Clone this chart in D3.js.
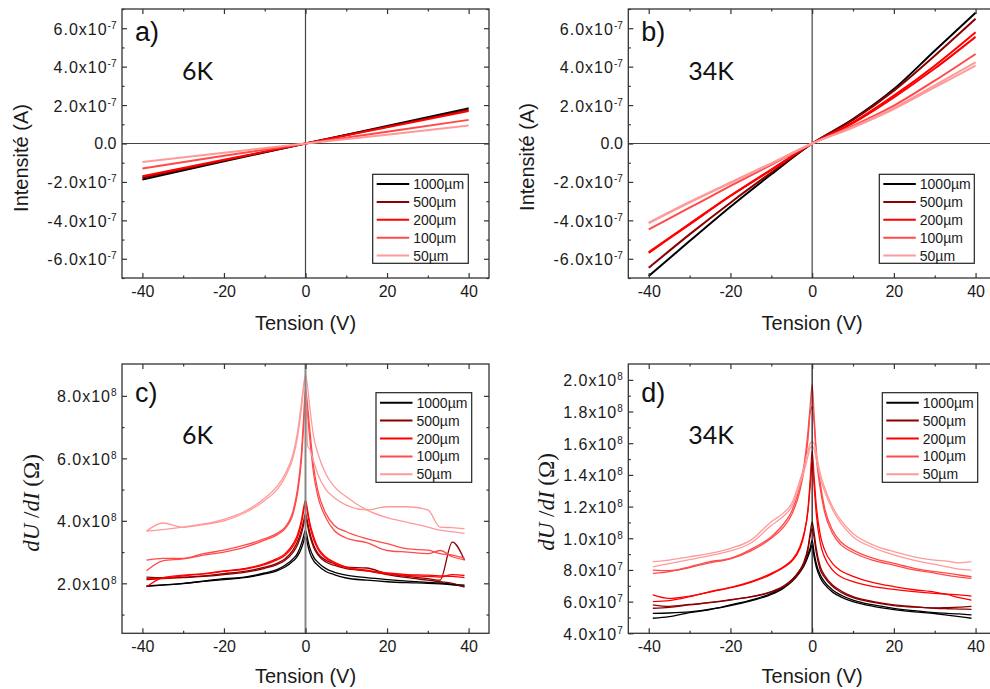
<!DOCTYPE html>
<html><head><meta charset="utf-8">
<script src="https://cdn.jsdelivr.net/npm/d3@7"></script>
<style>
html,body{margin:0;padding:0;background:#fff;}
svg{display:block;}
</style></head>
<body>
<svg id="chart" width="990" height="689"></svg>
<script>
// ---------------- DATA ----------------
const seriesNames = ["1000µm", "500µm", "200µm", "100µm", "50µm"];
const seriesColors = ["#000000", "#8b0000", "#ff0000", "#ff4a4a", "#ff9a9a"];

// Panel a (6K) I-V, current in units of 1e-7 A
const aV = [-40, -20, 0, 20, 40];
const a1000 = [-1.87, -0.93, 0, 0.91, 1.83];
const a500 = [-1.78, -0.88, 0, 0.87, 1.75];
const a200 = [-1.70, -0.85, 0, 0.84, 1.69];
const a100 = [-1.30, -0.64, 0, 0.61, 1.23];
const a50 = [-0.96, -0.48, 0, 0.46, 0.94];

// Panel b (34K) I-V, current in units of 1e-7 A
const bV = [-40, -30, -20, -10, 0, 10, 20, 30, 40];
const b1000 = [-6.90, -5.08, -3.29, -1.60, 0, 1.27, 2.83, 4.83, 6.80];
const b500 = [-6.47, -4.73, -3.08, -1.51, 0, 1.23, 2.75, 4.57, 6.49];
const b200 = [-5.69, -4.21, -2.73, -1.37, 0, 1.10, 2.49, 4.05, 5.79];
const b200b = [-5.65, -4.18, -2.72, -1.36, 0, 1.06, 2.40, 3.90, 5.55];
const b100 = [-4.47, -3.34, -2.21, -1.11, 0, 0.92, 1.97, 3.27, 4.66];
const b50 = [-4.12, -3.04, -2.03, -1.03, 0, 0.83, 1.79, 2.92, 4.05];
const b50b = [-4.15, -3.08, -2.06, -1.05, 0, 0.86, 1.85, 3.02, 4.23];

// Panels c and d: dU/dI sweeps on a shared voltage grid
const cdV = [-39, -35, -30, -25, -20, -15, -10, -7, -5, -3, -2, -1, -0.5, 0, 0.5, 1, 2, 3, 5, 7, 10, 15, 20, 25, 30, 33, 36, 39];

// Panel c (6K), units of 1e8 Ohm
const c1000a = [1.90,1.94,1.99,2.07,2.15,2.20,2.33,2.44,2.58,2.79,2.95,3.27,3.49,3.70,3.43,3.16,2.84,2.68,2.47,2.36,2.26,2.18,2.12,2.07,2.03,2.01,1.97,1.94];
const c1000b = [1.92,1.95,2.00,2.06,2.12,2.18,2.30,2.40,2.52,2.72,2.86,3.12,3.32,3.52,3.25,3.00,2.72,2.58,2.38,2.28,2.17,2.10,2.05,2.02,2.00,1.98,1.95,1.90];
const c500a = [2.20,2.18,2.20,2.24,2.31,2.38,2.52,2.64,2.79,3.08,3.32,3.70,3.97,4.23,3.97,3.65,3.22,2.97,2.74,2.63,2.52,2.49,2.31,2.22,2.15,2.10,3.32,2.74];
const c500b = [2.12,2.15,2.18,2.22,2.28,2.35,2.48,2.60,2.74,3.00,3.22,3.58,3.85,4.10,3.85,3.55,3.15,2.92,2.68,2.58,2.47,2.40,2.28,2.18,2.10,2.05,2.00,1.88];
const c200a = [1.88,2.18,2.26,2.31,2.40,2.47,2.63,2.79,2.95,3.27,3.54,4.02,4.39,4.66,4.34,3.97,3.49,3.16,2.84,2.68,2.52,2.42,2.33,2.28,2.26,2.24,2.22,2.18];
const c200b = [2.15,2.16,2.24,2.30,2.38,2.45,2.60,2.75,2.90,3.20,3.45,3.92,4.28,4.55,4.25,3.88,3.40,3.10,2.80,2.64,2.50,2.40,2.30,2.25,2.22,2.20,2.28,2.25];
const c100a = [2.74,2.80,2.80,2.95,3.06,3.22,3.43,3.60,3.80,4.34,4.98,6.15,7.20,8.24,7.70,7.00,5.73,4.98,4.23,3.86,3.65,3.43,3.27,3.10,3.06,2.95,2.90,2.80];
const c100b = [2.40,2.72,2.78,2.90,3.00,3.15,3.38,3.55,3.75,4.25,4.85,5.95,6.95,7.90,7.40,6.70,5.50,4.80,4.10,3.70,3.45,3.30,3.05,3.00,2.95,3.05,2.85,2.75];
const c50a = [3.67,3.72,3.80,3.90,4.05,4.30,4.72,5.10,5.50,6.17,6.80,7.77,8.30,8.67,8.30,7.70,6.69,6.17,5.50,5.10,4.77,4.35,4.10,3.95,3.80,3.70,3.65,3.60];
const c50b = [3.67,3.93,3.80,3.88,4.00,4.25,4.65,5.00,5.40,6.05,6.65,7.60,8.20,8.60,6.40,6.30,5.90,5.50,5.00,4.75,4.50,4.35,4.45,4.45,4.35,3.80,3.78,3.75];

// Panel d (34K), units of 1e7 Ohm
const d1000a = [4.95,5.05,5.30,5.50,5.79,6.10,6.52,6.94,7.36,7.99,8.41,9.04,9.36,9.88,9.04,8.41,7.68,7.26,6.73,6.42,6.10,5.79,5.58,5.43,5.30,5.26,5.22,5.16];
const d1000b = [5.26,5.28,5.35,5.52,5.75,6.05,6.45,6.85,7.25,7.85,8.25,8.85,9.20,9.55,8.80,8.20,7.50,7.10,6.60,6.30,6.00,5.70,5.50,5.35,5.25,5.15,5.05,4.95];
const d500a = [5.58,5.64,5.79,5.93,6.10,6.31,6.63,6.98,7.36,7.99,8.52,9.46,10.30,11.04,10.30,9.36,8.20,7.68,7.05,6.69,6.31,6.00,5.79,5.68,5.58,5.55,5.53,5.51];
const d500b = [5.80,5.70,5.82,5.95,6.12,6.30,6.60,6.95,7.30,7.90,8.40,9.30,10.10,10.60,10.00,9.10,8.00,7.55,6.95,6.60,6.25,5.95,5.75,5.65,5.60,5.62,5.65,5.70];
const d200a = [6.00,6.06,6.31,6.63,6.90,7.26,7.78,8.20,8.62,9.46,10.30,11.77,13.24,14.82,13.24,11.56,9.67,8.83,7.99,7.57,7.26,6.94,6.77,6.63,6.52,6.47,6.42,6.35];
const d200b = [6.42,6.20,6.35,6.60,6.88,7.22,7.72,8.15,8.55,9.35,10.20,11.90,13.60,15.50,13.80,12.10,10.20,9.30,8.40,7.95,7.60,7.20,6.95,6.75,6.60,6.45,6.25,6.10];
const d100a = [7.78,7.89,8.20,8.52,8.73,9.30,10.10,10.90,11.70,13.30,14.60,16.80,18.30,19.70,17.65,15.55,13.45,11.98,10.50,9.78,9.25,8.73,8.41,8.10,7.89,7.80,7.68,7.57];
const d100b = [7.99,7.95,8.15,8.45,8.70,9.20,10.00,10.70,11.50,13.00,14.30,16.30,17.90,18.30,17.20,15.20,13.10,11.70,10.30,9.60,9.10,8.60,8.30,8.00,7.80,7.65,7.55,7.47];
const d50a = [8.52,8.62,8.83,9.04,9.36,9.88,11.04,11.60,12.20,13.66,14.50,15.55,15.97,16.08,15.97,15.34,14.08,13.24,11.98,11.14,10.30,9.57,9.15,8.83,8.62,8.55,8.45,8.52];
const d50b = [8.20,8.40,8.65,8.90,9.20,9.70,10.80,11.40,12.00,13.40,14.20,15.20,15.70,15.80,15.60,15.00,13.80,13.00,11.80,10.95,10.10,9.40,8.95,8.60,8.35,8.20,8.05,7.99];

// Tick values and labels
const xTicks = [-40, -20, 0, 20, 40];
const xMinor = [-30, -10, 10, 30];
const abYTicks = [-6, -4, -2, 0, 2, 4, 6];           // x1e-7
const abYMinor = [-7, -5, -3, -1, 1, 3, 5, 7];
const abYMant = ["-6.0", "-4.0", "-2.0", "0.0", "2.0", "4.0", "6.0"];
const abYExp = ["-7", "-7", "-7", "", "-7", "-7", "-7"];
const cYTicks = [2, 4, 6, 8];                         // x1e8
const cYMinor = [1, 3, 5, 7];
const cYMant = ["2.0", "4.0", "6.0", "8.0"];
const cYExp = ["8", "8", "8", "8"];
const dYTicks = [4, 6, 8, 10, 12, 14, 16, 18, 20];   // x1e7
const dYMinor = [5, 7, 9, 11, 13, 15, 17, 19];
const dYMant = ["4.0", "6.0", "8.0", "1.0", "1.2", "1.4", "1.6", "1.8", "2.0"];
const dYExp = ["7", "7", "7", "8", "8", "8", "8", "8", "8"];

// ---------------- DRAWING ----------------
const svg = d3.select("#chart");
const SANS = "'Liberation Sans', Arial, sans-serif";
const TXT = "#1a1a1a";

function makePanel(cfg) {
  const g = svg.append("g");
  const x = d3.scaleLinear().domain([-45, 45]).range([cfg.left, cfg.right]);
  const y = d3.scaleLinear().domain(cfg.yDomain).range([cfg.bottom, cfg.top]);
  const clipId = "clip" + cfg.id;
  svg.append("defs").append("clipPath").attr("id", clipId)
    .append("rect").attr("x", cfg.left).attr("y", cfg.top)
    .attr("width", cfg.right - cfg.left).attr("height", cfg.bottom - cfg.top);

  const zeroG = g.append("g");
  function drawZero() {
    if (cfg.zeroH) {
      zeroG.append("line").attr("x1", cfg.left).attr("x2", cfg.right)
        .attr("y1", y(0)).attr("y2", y(0))
        .attr("stroke", "#444").attr("stroke-width", 1.2);
    }
    zeroG.append("line").attr("x1", x(0)).attr("x2", x(0))
      .attr("y1", cfg.top).attr("y2", cfg.bottom)
      .attr("stroke", cfg.zeroColor).attr("stroke-width", cfg.zeroWidth);
  }
  if (!cfg.zeroOnTop) drawZero();

  const dataG = g.append("g").attr("clip-path", `url(#${clipId})`);
  const line = d3.line().x(d => x(d[0])).y(d => y(d[1])).curve(d3.curveMonotoneX);
  cfg.sweeps.forEach(s => {
    const pts = s.v.map((v, i) => [v, s.vals[i]]);
    dataG.append("path").attr("d", line(pts)).attr("fill", "none")
      .attr("stroke", seriesColors[s.k]).attr("stroke-width", cfg.lw)
      .attr("stroke-linejoin", "round");
  });
  if (cfg.zeroOnTop) { zeroG.raise(); drawZero(); }

  // frame
  g.append("rect").attr("x", cfg.left).attr("y", cfg.top)
    .attr("width", cfg.right - cfg.left).attr("height", cfg.bottom - cfg.top)
    .attr("fill", "none").attr("stroke", "#333").attr("stroke-width", 1.3);

  // ticks (inward) on all sides
  const axes = [
    [d3.axisBottom(x), `translate(0,${cfg.bottom})`, xTicks, xMinor, true],
    [d3.axisTop(x), `translate(0,${cfg.top})`, xTicks, xMinor, false],
    [d3.axisLeft(y), `translate(${cfg.left},0)`, cfg.yTicks, cfg.yMinor, false],
    [d3.axisRight(y), `translate(${cfg.right},0)`, cfg.yTicks, cfg.yMinor, false]
  ];
  axes.forEach(([ax, tr, maj, min, labels]) => {
    const a1 = g.append("g").attr("transform", tr)
      .call(ax.tickValues(maj).tickSize(-5).tickPadding(7.5)
        .tickFormat(labels ? d3.format("d") : () => ""));
    const a2 = g.append("g").attr("transform", tr)
      .call(ax.tickValues(min).tickSize(-2.5).tickFormat(() => ""));
    [a1, a2].forEach(a => {
      a.select(".domain").remove();
      a.selectAll(".tick line").attr("stroke", "#333").attr("stroke-width", 1.2);
      a.selectAll("text").attr("font-family", SANS).attr("font-size", 16).attr("fill", TXT)
        .text(function () { return d3.select(this).text().replace("−", "-"); });
    });
  });

  // y tick labels
  cfg.yTicks.forEach((v, i) => {
    const exp = cfg.yExp[i];
    const t = g.append("text").attr("x", cfg.left - 5.5)
      .attr("y", y(v) + (exp ? 6.5 : 5.5))
      .attr("text-anchor", "end").attr("font-family", SANS).attr("font-size", 16).attr("fill", TXT);
    if (exp) {
      t.append("tspan").attr("letter-spacing", 1).text(cfg.yMant[i] + "x10");
      t.append("tspan").attr("dy", -6).attr("font-size", 10).text(exp);
    } else {
      t.text(cfg.yMant[i]);
    }
  });

  // axis titles
  g.append("text").attr("x", x(0)).attr("y", cfg.xTitleY).attr("text-anchor", "middle")
    .attr("font-family", SANS).attr("font-size", 20).attr("fill", TXT).text("Tension (V)");
  const yt = g.append("text")
    .attr("transform", `translate(${cfg.yTitleX},${cfg.yTitleY}) rotate(-90)`)
    .attr("text-anchor", "middle").attr("dy", "0.35em").attr("fill", TXT);
  if (cfg.yTitleMath) {
    yt.attr("font-family", "'Liberation Serif', 'Times New Roman', serif").attr("font-size", 23);
    yt.append("tspan").attr("font-style", "italic").text("dU");
    yt.append("tspan").text(" /");
    yt.append("tspan").attr("font-style", "italic").text("dI");
    yt.append("tspan").text(" (Ω)");
  } else {
    yt.attr("font-family", SANS).attr("font-size", 20).text("Intensité (A)");
  }

  // panel letter and temperature
  g.append("text").attr("x", cfg.left + 13).attr("y", cfg.top + cfg.letterDY)
    .attr("font-family", SANS).attr("font-size", 27).attr("fill", "#111").text(cfg.letter);
  g.append("text").attr("x", cfg.left + 60).attr("y", cfg.top + cfg.tempDY)
    .attr("font-family", "Lato, 'Open Sans', sans-serif").attr("font-size", 25).attr("fill", "#111").text(cfg.temp);

  // legend
  const L = cfg.legend;
  const lg = g.append("g");
  lg.append("rect").attr("x", L.x).attr("y", L.y).attr("width", L.w).attr("height", L.h)
    .attr("fill", "#fff").attr("stroke", "#222").attr("stroke-width", 1.2);
  seriesNames.forEach((n, i) => {
    const yy = L.y0 + i * 17.9;
    lg.append("line").attr("x1", L.x + 4).attr("x2", L.x + 36.5).attr("y1", yy).attr("y2", yy)
      .attr("stroke", seriesColors[i]).attr("stroke-width", 2);
    lg.append("text").attr("x", L.x + 40.5).attr("y", yy + 5)
      .attr("font-family", SANS).attr("font-size", 14).attr("fill", TXT).text(n);
  });
}

function sw(k, v, vals, scale) { return { k, v, vals: vals.map(d => d * scale) }; }

makePanel({
  id: "a", left: 122, right: 489, top: 9, bottom: 278, yDomain: [-7e-7, 7e-7],
  yTicks: abYTicks.map(d => d * 1e-7), yMinor: abYMinor.map(d => d * 1e-7),
  yMant: abYMant, yExp: abYExp, zeroH: true, zeroColor: "#444", zeroWidth: 1.2, zeroOnTop: false,
  lw: 2, xTitleY: 330, yTitleX: 21, yTitleY: 158, letter: "a)", letterDY: 31.5, temp: "6K", tempDY: 71,
  legend: { x: 372.7, y: 174.3, w: 95.6, h: 89, y0: 184 },
  sweeps: [sw(0, aV, a1000, 1e-7), sw(1, aV, a500, 1e-7), sw(2, aV, a200, 1e-7), sw(3, aV, a100, 1e-7), sw(4, aV, a50, 1e-7)]
});
makePanel({
  id: "b", left: 628.3, right: 996, top: 9, bottom: 278, yDomain: [-7e-7, 7e-7],
  yTicks: abYTicks.map(d => d * 1e-7), yMinor: abYMinor.map(d => d * 1e-7),
  yMant: abYMant, yExp: abYExp, zeroH: true, zeroColor: "#444", zeroWidth: 1.2, zeroOnTop: false,
  lw: 2, xTitleY: 330, yTitleX: 527, yTitleY: 157, letter: "b)", letterDY: 31.5, temp: "34K", tempDY: 71,
  legend: { x: 879.3, y: 174.3, w: 95, h: 89, y0: 184 },
  sweeps: [sw(0, bV, b1000, 1e-7), sw(1, bV, b500, 1e-7), sw(2, bV, b200, 1e-7), sw(2, bV, b200b, 1e-7),
           sw(3, bV, b100, 1e-7), sw(4, bV, b50, 1e-7), sw(4, bV, b50b, 1e-7)]
});
makePanel({
  id: "c", left: 122, right: 489, top: 364, bottom: 633.3, yDomain: [0.4e8, 9.02e8],
  yTicks: cYTicks.map(d => d * 1e8), yMinor: cYMinor.map(d => d * 1e8),
  yMant: cYMant, yExp: cYExp, zeroH: false, zeroColor: "#888", zeroWidth: 2, zeroOnTop: true,
  lw: 1.3, xTitleY: 683, yTitleX: 31, yTitleY: 503, letter: "c)", letterDY: 37.5, temp: "6K", tempDY: 80,
  yTitleMath: true,
  legend: { x: 376, y: 392.7, w: 95.7, h: 89.6, y0: 402.7 },
  sweeps: [sw(0, cdV, c1000a, 1e8), sw(0, cdV, c1000b, 1e8), sw(1, cdV, c500a, 1e8), sw(1, cdV, c500b, 1e8),
           sw(2, cdV, c200a, 1e8), sw(2, cdV, c200b, 1e8), sw(3, cdV, c100a, 1e8), sw(3, cdV, c100b, 1e8),
           sw(4, cdV, c50a, 1e8), sw(4, cdV, c50b, 1e8)]
});
makePanel({
  id: "d", left: 628.3, right: 996, top: 364, bottom: 633.3, yDomain: [4e7, 2.1e8],
  yTicks: dYTicks.map(d => d * 1e7), yMinor: dYMinor.map(d => d * 1e7),
  yMant: dYMant, yExp: dYExp, zeroH: false, zeroColor: "#111", zeroWidth: 1.2, zeroOnTop: true,
  lw: 1.3, xTitleY: 683, yTitleX: 546, yTitleY: 502, letter: "d)", letterDY: 37.5, temp: "34K", tempDY: 80,
  yTitleMath: true,
  legend: { x: 882.3, y: 392.7, w: 95.4, h: 89.6, y0: 402.7 },
  sweeps: [sw(0, cdV, d1000a, 1e7), sw(0, cdV, d1000b, 1e7), sw(1, cdV, d500a, 1e7), sw(1, cdV, d500b, 1e7),
           sw(2, cdV, d200a, 1e7), sw(2, cdV, d200b, 1e7), sw(3, cdV, d100a, 1e7), sw(3, cdV, d100b, 1e7),
           sw(4, cdV, d50a, 1e7), sw(4, cdV, d50b, 1e7)]
});
</script>
</body></html>
